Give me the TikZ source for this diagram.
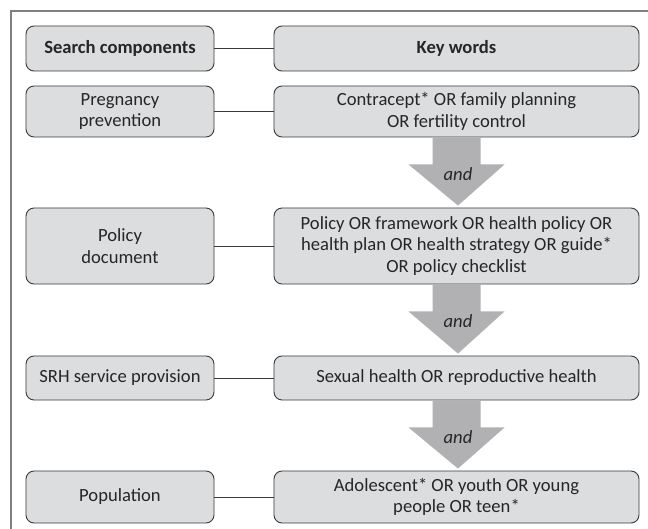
\documentclass[tikz,border=0pt]{standalone}
\usepackage{fontspec}
\setmainfont{Carlito}
\usepackage{xcolor}
\definecolor{boxgray}{HTML}{DCDDDF}
\definecolor{edgegray}{HTML}{3A3A3A}
\definecolor{arrowgray}{HTML}{B1B1B4}
\definecolor{framegray}{HTML}{808080}
\definecolor{inkgray}{HTML}{262626}
\usepackage{tikz}
\usetikzlibrary{calc}
\tikzset{
  searchbox/.style={draw=edgegray,line width=0.9pt,rounded corners=8pt,fill=boxgray,align=center,
    text=inkgray,inner sep=2pt,font=\fontsize{18.6}{21.6}\selectfont},
  compbox/.style={searchbox,minimum width=188pt},
  wordbox/.style={searchbox,minimum width=365pt},
  linkline/.style={edgegray,line width=0.9pt},
  andarrow/.style={fill=arrowgray,draw=none},
  andlabel/.style={text=inkgray,font=\fontsize{18.6}{21.6}\selectfont\itshape}
}

\begin{document}
\begin{tikzpicture}[x=1pt,y=-1pt]
\useasboundingbox (0,0) rectangle (648,529);
\draw[framegray,line width=1.5pt] (11,529) -- (11,11) -- (648,11);
% left column: search components
\node[compbox,minimum height=45pt] (s1) at (120,48.5) {\bfseries Search components};
\node[compbox,minimum height=51pt] (s2) at (120,111.5) {Pregnancy\\prevention};
\node[compbox,minimum height=76pt] (s3) at (120,246) {Policy\\document};
\node[compbox,minimum height=44pt] (s4) at (120,378) {SRH service provision};
\node[compbox,minimum height=52pt] (s5) at (120,497) {Population};
% right column: key words
\node[wordbox,minimum height=45pt] (k1) at (456.5,48.5) {\bfseries Key words};
\node[wordbox,minimum height=51pt] (k2) at (456.5,111.5) {Contracept* OR family planning\\OR fertility control};
\node[wordbox,minimum height=76pt] (k3) at (456.5,246) {Policy OR framework OR health policy OR\\health plan OR health strategy OR guide*\\OR policy checklist};
\node[wordbox,minimum height=44pt] (k4) at (456.5,378) {Sexual health OR reproductive health};
\node[wordbox,minimum height=52pt] (k5) at (456.5,497) {Adolescent* OR youth OR young\\people OR teen*};
\draw[linkline] (s1)--(k1);\draw[linkline] (s2)--(k2);\draw[linkline] (s3)--(k3);
\draw[linkline] (s4)--(k4);\draw[linkline] (s5)--(k5);
% block arrows between key word boxes
\foreach \a/\b in {k2/k3,k3/k4,k4/k5}{
  \fill[andarrow] ($(\a.south)+(-24,0)$) -- ($(\a.south)+(24,0)$) -- ($(\a.south)+(24,27)$)
    -- ($(\a.south)+(48,27)$) -- ($(\b.north)+(1.5,-2)$) -- ($(\a.south)+(-48,27)$)
    -- ($(\a.south)+(-24,27)$) -- cycle;
  \node[andlabel] (and-\b) at ($(\a.south)+(1.5,37)$) {and};
}
\end{tikzpicture}
\end{document}
